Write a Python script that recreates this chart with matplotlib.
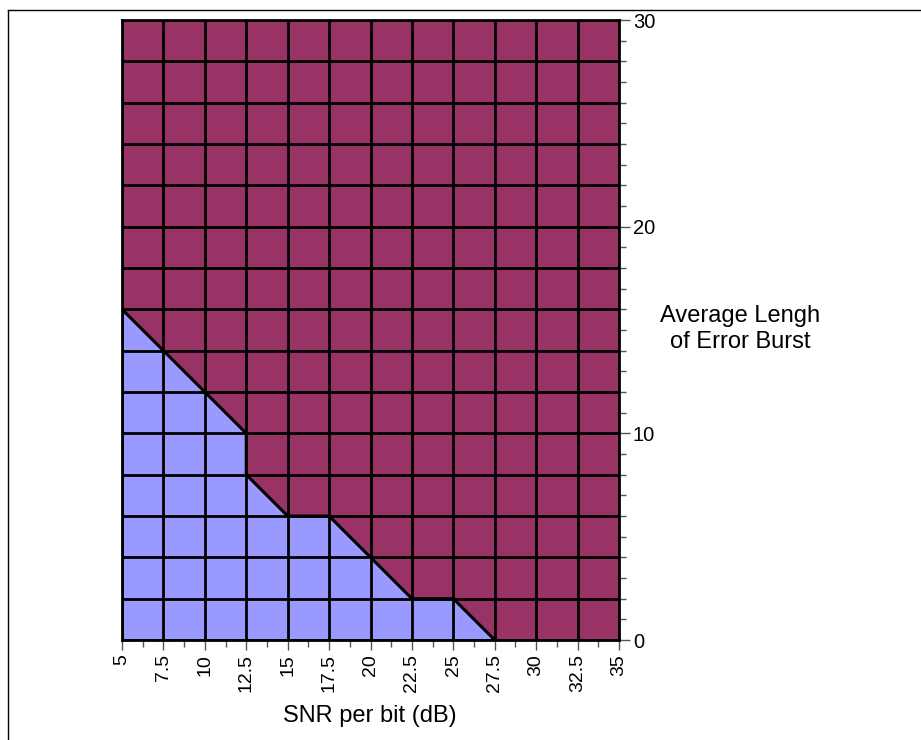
import matplotlib.pyplot as plt
import numpy as np
from matplotlib.lines import Line2D

plt.rcParams['font.family'] = ['Liberation Sans', 'DejaVu Sans']

# boundary between the two regions (SNR in dB, avg burst length)
snr_edge = [5, 7.5, 10, 12.5, 12.5, 15, 17.5, 20, 22.5, 25, 27.5]
burst_edge = [16, 14, 12, 10, 8, 6, 6, 4, 2, 2, 0]

snr_ticks = [5, 7.5, 10, 12.5, 15, 17.5, 20, 22.5, 25, 27.5, 30, 32.5, 35]
burst_grid = [0, 2, 4, 6, 8, 10, 12, 14, 16, 18, 20, 22, 24, 26, 28, 30]
burst_labels = [0, 10, 20, 30]

col_low = '#9999FF'
col_high = '#993366'

fig = plt.figure(figsize=(9.21, 7.4), dpi=100)
ax = fig.add_axes([122 / 921, 1 - 640 / 740, 497 / 921, 620 / 740])

x_min, x_max = snr_ticks[0], snr_ticks[-1]
y_min, y_max = burst_grid[0], burst_grid[-1]

# upper region fills everything, lower region drawn on top
ax.fill([x_min, x_max, x_max, x_min], [y_min, y_min, y_max, y_max], color=col_high, zorder=1)
ax.fill(snr_edge + [x_min], burst_edge + [y_min], color=col_low, zorder=2)

# cell grid
for xv in snr_ticks:
    ax.axvline(xv, color='black', lw=2, zorder=3)
for yv in burst_grid:
    ax.axhline(yv, color='black', lw=2, zorder=3)
ax.plot(snr_edge, burst_edge, color='black', lw=2.2, zorder=4)

ax.set_xlim(x_min, x_max)
ax.set_ylim(y_min, y_max)

ax.set_xticks(snr_ticks)
ax.set_xticklabels([f'{v:g}' for v in snr_ticks], rotation=90, fontsize=14)
ax.set_xticks(np.arange(x_min + 1.25, x_max, 2.5), minor=True)

ax.yaxis.tick_right()
ax.set_yticks(burst_labels)
ax.set_yticklabels([str(v) for v in burst_labels], fontsize=14.5)
ax.set_yticks([v for v in range(0, 31) if v not in burst_labels], minor=True)

ax.tick_params(axis='x', which='major', length=7, width=1, color='#555555', pad=3)
ax.tick_params(axis='x', which='minor', length=5, width=1, color='#555555')
ax.tick_params(axis='y', which='major', length=8, width=1, color='#555555', pad=2)
ax.tick_params(axis='y', which='minor', length=5, width=1, color='#555555')

for s in ax.spines.values():
    s.set_linewidth(2)
    s.set_zorder(5)

# axis titles placed as in the reference
fig.text(370 / 921, 1 - 716 / 740, 'SNR per bit (dB)', fontsize=17,
         ha='center', va='center')
fig.text(740 / 921, 1 - 329 / 740, 'Average Lengh\nof Error Burst', fontsize=17,
         ha='center', va='center', linespacing=1.2)

# outer frame (only top and left edges show)
fig.add_artist(Line2D([8 / 921, 1], [1 - 10 / 740, 1 - 10 / 740], color='black', lw=1))
fig.add_artist(Line2D([8 / 921, 8 / 921], [0, 1 - 10 / 740], color='black', lw=1))

fig.savefig('out.png', dpi=100)
